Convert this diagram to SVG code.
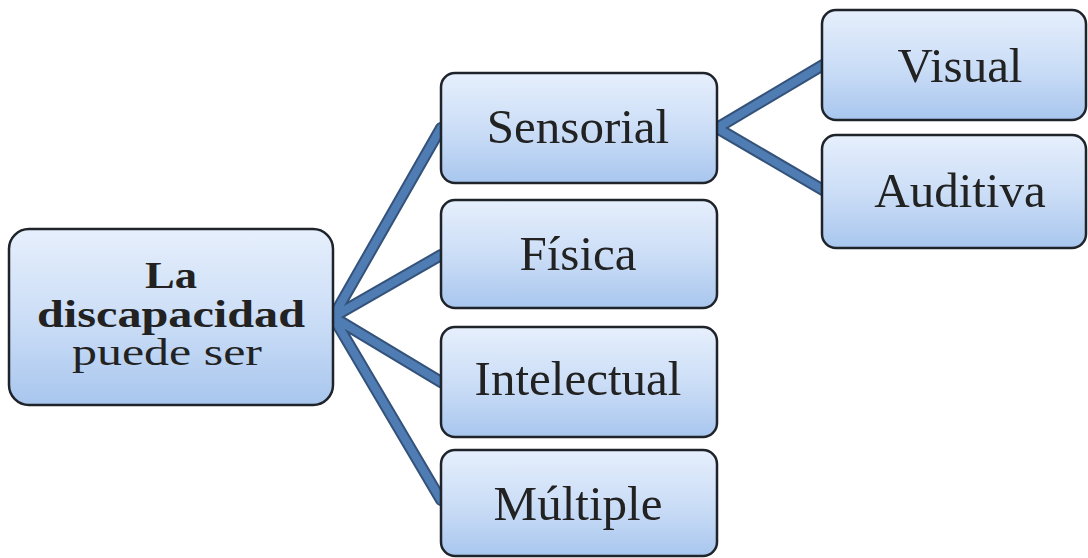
<svg xmlns="http://www.w3.org/2000/svg" width="1088" height="558" viewBox="0 0 1088 558">
<defs>
<linearGradient id="g" x1="0" y1="0" x2="0" y2="1">
<stop offset="0" stop-color="#e6effc"/>
<stop offset="0.55" stop-color="#c9dcf6"/>
<stop offset="1" stop-color="#a8c6ee"/>
</linearGradient>
<style>
.box{fill:url(#g);stroke:#1f232a;stroke-width:2.5}
.t{font-family:"Liberation Serif","Times New Roman",serif;font-size:49px;fill:#222;text-anchor:middle}
.r{font-size:37px}
.b{font-weight:bold}
.co{stroke:#34527a;stroke-width:12;stroke-linecap:round;fill:none}
.ci{stroke:#4f7db3;stroke-width:8;stroke-linecap:round;fill:none}
</style>
</defs>
<g id="connectors">
<path class="co" d="M333 317 L441 128 M333 317 L441 255 M333 317 L441 382 M333 317 L441 500 M717 128 L823 65 M717 128 L823 190"/>
<path class="ci" d="M333 317 L441 128 M333 317 L441 255 M333 317 L441 382 M333 317 L441 500 M717 128 L823 65 M717 128 L823 190"/>
</g>
<g id="root">
<rect class="box" x="9" y="229" width="324" height="176" rx="20"/>
<text class="t r b" x="171" y="288" textLength="52" lengthAdjust="spacingAndGlyphs">La</text>
<text class="t r b" x="171" y="327" textLength="268" lengthAdjust="spacingAndGlyphs">discapacidad</text>
<text class="t r" x="167" y="365" textLength="190" lengthAdjust="spacingAndGlyphs">puede ser</text>
</g>
<g id="sensorial">
<rect class="box" x="441" y="73" width="276" height="110" rx="14"/>
<text class="t" x="578" y="143">Sensorial</text>
</g>
<g id="fisica">
<rect class="box" x="441" y="200" width="276" height="108" rx="14"/>
<text class="t" x="578" y="270">Física</text>
</g>
<g id="intelectual">
<rect class="box" x="441" y="327" width="276" height="110" rx="14"/>
<text class="t" x="578" y="395">Intelectual</text>
</g>
<g id="multiple">
<rect class="box" x="441" y="450" width="276" height="106" rx="14"/>
<text class="t" x="578" y="520">Múltiple</text>
</g>
<g id="visual">
<rect class="box" x="822" y="10" width="264" height="110" rx="14"/>
<text class="t" x="960" y="82">Visual</text>
</g>
<g id="auditiva">
<rect class="box" x="822" y="135" width="264" height="113" rx="14"/>
<text class="t" x="960" y="207">Auditiva</text>
</g>
</svg>
